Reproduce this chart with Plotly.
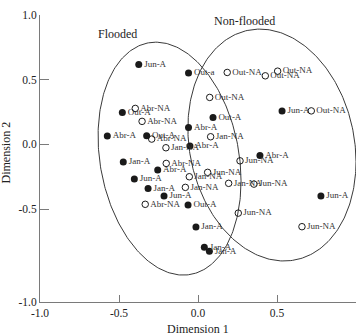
import numpy as np
import plotly.graph_objects as go

# ---- data ----
flood_labels = ["Jun-A", "Out-a", "Out-A", "Abr-A", "Abr-A", "Out-A", "Abr-A", "Out-A", "Jun-A", "Abr-A",
                "Jan-A", "Abr-A", "Jun-A", "Jan-A", "Jun-A", "Out-A", "Jun-A", "Jan-A", "Jan-A", "Jan-A"]
flood_x = [-0.375, -0.060, -0.479, -0.060, -0.574, -0.325, -0.051, 0.095, 0.532, 0.392,
           -0.473, -0.255, -0.403, -0.316, -0.215, -0.063, 0.778, -0.013, 0.040, 0.072]
flood_y = [0.618, 0.551, 0.247, 0.131, 0.064, 0.066, -0.013, 0.208, 0.259, -0.085,
           -0.137, -0.198, -0.268, -0.340, -0.399, -0.469, -0.399, -0.639, -0.795, -0.826]

nonflood_labels = ["Abr-NA", "Abr-NA", "Abr-NA", "Jan-NA", "Jan-NA", "Out-NA", "Out-NA", "Out-NA", "Out-NA", "Out-NA",
                   "Abr-NA", "Jun-NA", "Jan-NA", "Jan-NA", "Jun-NA", "Jan-NA", "Jun-NA", "Abr-NA", "Jun-NA", "Jun-NA"]
nonflood_x = [-0.397, -0.354, -0.293, -0.203, 0.080, 0.185, 0.426, 0.504, 0.074, 0.717,
              -0.201, 0.061, -0.055, -0.080, 0.266, 0.194, 0.354, -0.334, 0.255, 0.658]
nonflood_y = [0.278, 0.178, 0.041, -0.026, 0.059, 0.556, 0.530, 0.566, 0.363, 0.259,
              -0.147, -0.216, -0.250, -0.332, -0.127, -0.301, -0.307, -0.463, -0.531, -0.636]

# group ellipses: centre, half extents, correlation
group_names = ["Flooded", "Non-flooded"]
ell_cx = [-0.180, 0.468]
ell_cy = [-0.110, -0.005]
ell_hx = [0.4525, 0.532]
ell_hy = [0.900, 0.896]
ell_rho = [0.191, 0.144]
group_label_x = [-0.511, 0.297]
group_label_y = [0.857, 0.954]

tick_text = ["-1.0", "-0.5", "0.0", "0.5", "1.0"]
x_ticks = [-1.0, -0.5, 0.0, 0.5, 1.0]
y_bottom = -1.218
y_ticks = [y_bottom, -0.5, 0.0, 0.5, 1.0]

SERIF = "Liberation Serif, Times New Roman, serif"
INK = "#1a1a1a"
AXIS = "#7a7a7a"

fig = go.Figure()

t = np.linspace(0, 2 * np.pi, 300)
for i in range(len(group_names)):
    d = np.arccos(ell_rho[i])
    ex = ell_cx[i] + ell_hx[i] * np.cos(t)
    ey = ell_cy[i] - ell_hy[i] * np.cos(t + d)
    fig.add_trace(go.Scatter(x=ex, y=ey, mode="lines",
                             line=dict(color="#3a3a3a", width=1),
                             hoverinfo="skip", showlegend=False))

fig.add_trace(go.Scatter(
    x=flood_x, y=flood_y, text=flood_labels, mode="markers+text",
    textposition="middle right",
    marker=dict(symbol="circle", size=7, color=INK),
    textfont=dict(family=SERIF, size=9, color="#333"),
    showlegend=False, cliponaxis=False))

fig.add_trace(go.Scatter(
    x=nonflood_x, y=nonflood_y, text=nonflood_labels, mode="markers+text",
    textposition="middle right",
    marker=dict(symbol="circle-open", size=6.5, color=INK, line=dict(width=1, color=INK)),
    textfont=dict(family=SERIF, size=9, color="#333"),
    showlegend=False, cliponaxis=False))

for i in range(len(group_names)):
    fig.add_annotation(x=group_label_x[i], y=group_label_y[i], text=group_names[i],
                       showarrow=False, font=dict(family=SERIF, size=12, color="#222"))

fig.add_annotation(xref="paper", yref="paper", x=0.5, y=-0.094, text="Dimension 1",
                   showarrow=False, yanchor="middle",
                   font=dict(family=SERIF, size=12, color="#222"))
fig.add_annotation(xref="paper", yref="paper", x=-0.1076, y=0.521, text="Dimension 2",
                   showarrow=False, textangle=-90, xanchor="center", yanchor="middle",
                   font=dict(family=SERIF, size=12, color="#222"))

fig.update_layout(
    width=360, height=335,
    margin=dict(l=40, r=4, t=15, b=33),
    paper_bgcolor="white", plot_bgcolor="white",
    xaxis=dict(range=[-1.0, 1.0], tickvals=x_ticks, ticktext=tick_text,
               showgrid=False, zeroline=False, showline=True, linecolor=AXIS, linewidth=1,
               ticks="inside", ticklen=7, tickcolor=AXIS,
               tickfont=dict(family=SERIF, size=11.5, color="#222")),
    yaxis=dict(range=[y_bottom, 1.0], tickvals=y_ticks, ticktext=tick_text,
               showgrid=False, zeroline=False, showline=True, linecolor=AXIS, linewidth=1,
               ticks="inside", ticklen=9, tickcolor=AXIS,
               tickfont=dict(family=SERIF, size=11.5, color="#222")),
)

fig.write_html("out.html")
